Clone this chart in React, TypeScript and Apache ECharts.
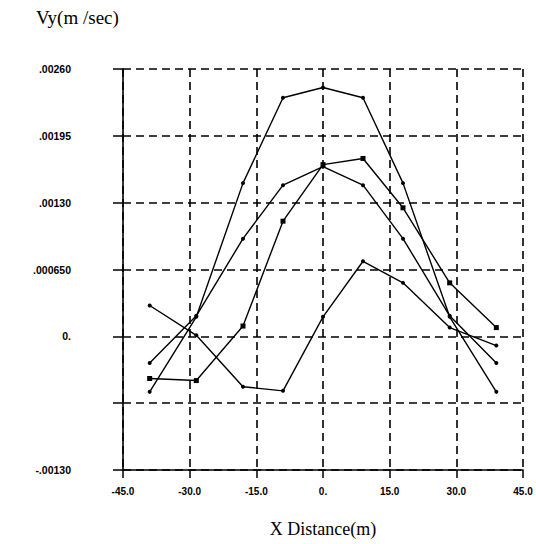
import React, { useEffect, useRef } from "react";
import * as echarts from "echarts";

const xPositions = [-39, -28.5, -18, -9, 0, 9, 18, 28.5, 39];
const seriesA = [-0.00054, 0.00019, 0.00149, 0.00232, 0.00242, 0.00232, 0.00149, 0.00019, -0.00054];
const seriesB = [-0.00026, 0.0002, 0.00095, 0.00147, 0.00165, 0.00147, 0.00095, 0.0002, -0.00026];
const seriesC = [-0.00041, -0.00043, 0.0001, 0.00112, 0.00167, 0.00173, 0.00125, 0.00052, 0.000085];
const seriesD = [0.0003, 0.00001, -0.00049, -0.00053, 0.00019, 0.00073, 0.00052, 0.000085, -0.00009];

const xTickLabels = ["-45.0", "-30.0", "-15.0", "0.", "15.0", "30.0", "45.0"];
const yTickLabels = ["-.00130", "", "0.", ".000650", ".00130", ".00195", ".00260"];

const pair = (ys: number[]) => xPositions.map((x, i) => [x, ys[i]]);

export default function App() {
  const ref = useRef<HTMLDivElement>(null);
  useEffect(() => {
    if (!ref.current) return;
    const chart = echarts.init(ref.current, null, { renderer: "svg" });
    const lineSeries = (data: number[], symbol: string, size: number) => ({
      type: "line",
      data: pair(data),
      symbol,
      symbolSize: size,
      lineStyle: { color: "#000", width: 1.4 },
      itemStyle: { color: "#000" },
      z: 5,
    });
    chart.setOption({
      animation: false,
      backgroundColor: "#fff",
      title: {
        text: "Vy(m /sec)",
        left: 31,
        top: 3,
        textStyle: { fontFamily: "Liberation Serif", fontSize: 19, fontWeight: "normal", color: "#000" },
      },
      grid: { left: 123, top: 69, width: 400, height: 401 },
      xAxis: {
        type: "value",
        min: -45,
        max: 45,
        interval: 15,
        name: "X Distance(m)",
        nameLocation: "middle",
        nameGap: 50,
        nameTextStyle: { fontFamily: "Liberation Serif", fontSize: 18, color: "#000" },
        axisLine: { show: true, onZero: false, lineStyle: { color: "#000", width: 1.6 } },
        axisTick: { show: true, length: 8, lineStyle: { color: "#000", width: 1.5 } },
        axisLabel: {
          margin: 16,
          fontFamily: "Liberation Sans",
          fontSize: 10,
          fontWeight: "bold",
          color: "#000",
          formatter: (v: number) => xTickLabels[Math.round((v + 45) / 15)] ?? "",
        },
        splitLine: { show: true, lineStyle: { color: "#000", width: 1.6, type: [8, 5] } },
      },
      yAxis: {
        type: "value",
        min: -0.0013,
        max: 0.0026,
        interval: 0.00065,
        axisLine: { show: true, onZero: false, lineStyle: { color: "#000", width: 1.6 } },
        axisTick: { show: true, length: 10, lineStyle: { color: "#000", width: 1.5 } },
        axisLabel: {
          margin: 52,
          fontFamily: "Liberation Sans",
          fontSize: 10.5,
          fontWeight: "bold",
          color: "#000",
          formatter: (v: number) => yTickLabels[Math.round((v + 0.0013) / 0.00065)] ?? "",
        },
        splitLine: { show: true, lineStyle: { color: "#000", width: 1.6, type: [8, 5] } },
      },
      series: [
        lineSeries(seriesA, "circle", 4),
        lineSeries(seriesB, "circle", 4),
        lineSeries(seriesC, "rect", 5),
        lineSeries(seriesD, "circle", 4),
      ],
    });
    return () => chart.dispose();
  }, []);
  return <div ref={ref} style={{ position: "fixed", left: 0, top: 0, width: 536, height: 544 }} />;
}
